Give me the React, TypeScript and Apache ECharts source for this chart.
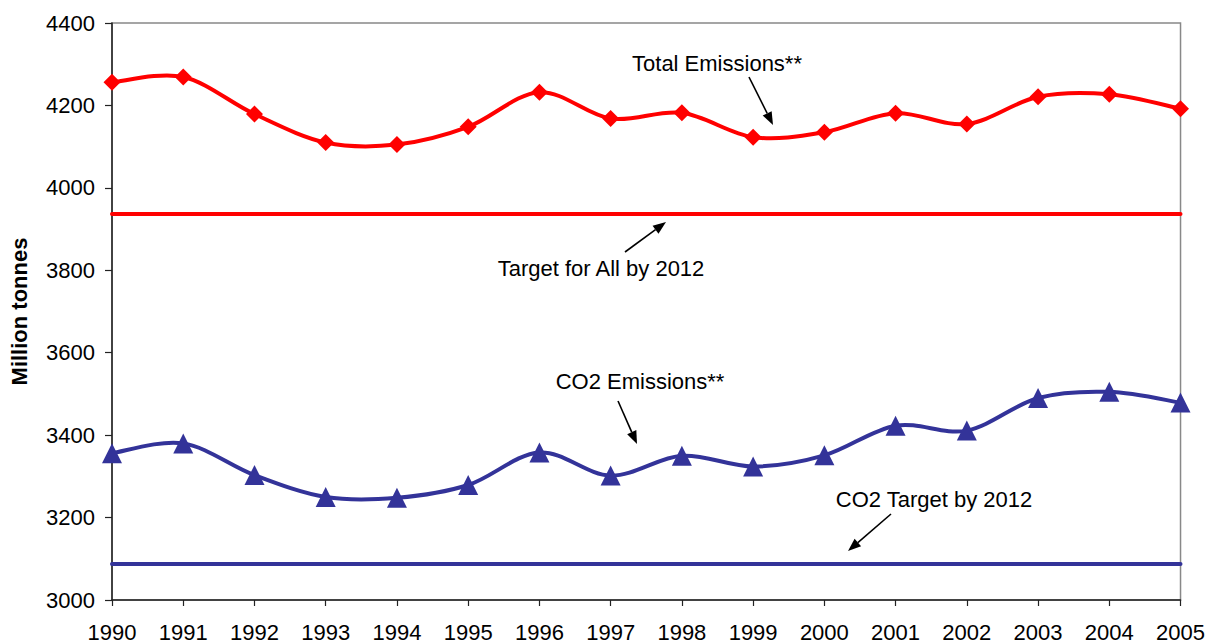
import { useEffect, useRef } from "react";
import * as echarts from "echarts";

// Years on the category axis
const YEARS = [
  "1990", "1991", "1992", "1993", "1994", "1995", "1996", "1997",
  "1998", "1999", "2000", "2001", "2002", "2003", "2004", "2005",
];

// Million tonnes per year
const TOTAL_EMISSIONS = [
  4256, 4269, 4179, 4110, 4105, 4148, 4232, 4168,
  4182, 4123, 4135, 4181, 4155, 4221, 4227, 4192,
];
const CO2_EMISSIONS = [
  3356, 3380, 3303, 3250, 3248, 3279, 3358, 3302,
  3350, 3324, 3351, 3423, 3411, 3490, 3505, 3479,
];

// 2012 targets
const TOTAL_TARGET = 3937;
const CO2_TARGET = 3089;

// Value axis range
const Y_MIN = 3000;
const Y_MAX = 4400;
const Y_STEP = 200;

const FONT = "'Liberation Sans', Arial, sans-serif";
const FONT_SIZE = 22;
const RED = "#FF0000";
const NAVY = "#333399";

// Callout labels with their pointer arrows (pixel layout)
const CALLOUTS = [
  { text: "Total Emissions**", x: 717, y: 63, from: [749, 77], to: [773, 125] },
  { text: "Target for All by 2012", x: 601, y: 268, from: [625, 252], to: [666, 222] },
  { text: "CO2 Emissions**", x: 640, y: 381, from: [618, 401], to: [637, 444] },
  { text: "CO2 Target by 2012", x: 934, y: 499, from: [891, 514], to: [848, 551] },
];

function arrow(from: number[], to: number[]) {
  const dx = to[0] - from[0];
  const dy = to[1] - from[1];
  const len = Math.hypot(dx, dy);
  const ux = dx / len;
  const uy = dy / len;
  const headLen = 13;
  const headHalf = 5;
  const bx = to[0] - ux * headLen;
  const by = to[1] - uy * headLen;
  const nx = -uy;
  const ny = ux;
  return [
    {
      type: "line",
      shape: { x1: from[0], y1: from[1], x2: bx, y2: by },
      style: { stroke: "#000", lineWidth: 1.6 },
      silent: true,
    },
    {
      type: "polygon",
      shape: {
        points: [
          [to[0], to[1]],
          [bx + nx * headHalf, by + ny * headHalf],
          [bx - nx * headHalf, by - ny * headHalf],
        ],
      },
      style: { fill: "#000" },
      silent: true,
    },
  ];
}

// One row per curve segment: [index, previous, start, end, following]
function segmentRows(values: number[]) {
  const n = values.length;
  const rows: number[][] = [];
  for (let i = 0; i < n - 1; i++) {
    rows.push([
      i,
      values[Math.max(i - 1, 0)],
      values[i],
      values[i + 1],
      values[Math.min(i + 2, n - 1)],
    ]);
  }
  return rows;
}

// Catmull-Rom style smoothed curve, each segment as a cubic Bezier
function smoothCurve(name: string, values: number[], color: string) {
  const last = values.length - 1;
  return {
    name,
    type: "custom",
    silent: true,
    z: 2,
    data: segmentRows(values),
    encode: { x: 0, y: 2 },
    renderItem: (_params: any, api: any) => {
      const i = api.value(0);
      const p0 = api.coord([Math.max(i - 1, 0), api.value(1)]);
      const p1 = api.coord([i, api.value(2)]);
      const p2 = api.coord([i + 1, api.value(3)]);
      const p3 = api.coord([Math.min(i + 2, last), api.value(4)]);
      return {
        type: "bezierCurve",
        shape: {
          x1: p1[0],
          y1: p1[1],
          cpx1: p1[0] + (p2[0] - p0[0]) / 6,
          cpy1: p1[1] + (p2[1] - p0[1]) / 6,
          cpx2: p2[0] - (p3[0] - p1[0]) / 6,
          cpy2: p2[1] - (p3[1] - p1[1]) / 6,
          x2: p2[0],
          y2: p2[1],
        },
        style: { stroke: color, lineWidth: 4, fill: null, lineCap: "round" },
      };
    },
  };
}

function markerSeries(name: string, values: number[], color: string, symbol: string, size: number, target: number) {
  return {
    name,
    type: "line",
    data: values,
    symbol,
    symbolSize: size,
    showAllSymbol: true,
    lineStyle: { width: 0, opacity: 0 },
    itemStyle: { color },
    z: 3,
    markLine: {
      silent: true,
      symbol: "none",
      label: { show: false },
      lineStyle: { color, width: 4, type: "solid", cap: "round" },
      data: [{ yAxis: target }],
    },
  };
}

export default function App() {
  const ref = useRef<HTMLDivElement>(null);

  useEffect(() => {
    if (!ref.current) return;
    const chart = echarts.init(ref.current, undefined, { renderer: "svg" });

    const graphics: any[] = [];
    CALLOUTS.forEach((c) => {
      graphics.push({
        type: "text",
        x: c.x,
        y: c.y,
        silent: true,
        style: {
          text: c.text,
          fontFamily: FONT,
          fontSize: FONT_SIZE,
          fill: "#000",
          textAlign: "center",
          textVerticalAlign: "middle",
        },
      });
      graphics.push(...arrow(c.from, c.to));
    });

    chart.setOption({
      animation: false,
      backgroundColor: "#fff",
      textStyle: { fontFamily: FONT },
      grid: {
        left: 107,
        right: 25,
        top: 23,
        bottom: 44,
        show: true,
        borderColor: "#888",
        borderWidth: 1.5,
        backgroundColor: "transparent",
      },
      xAxis: {
        type: "category",
        data: YEARS,
        boundaryGap: false,
        axisLine: { show: true, lineStyle: { color: "#222", width: 1.5 } },
        axisTick: { show: true, length: 6, lineStyle: { color: "#222", width: 1.2 } },
        axisLabel: { fontSize: FONT_SIZE, color: "#000", margin: 21, fontFamily: FONT },
        splitLine: { show: false },
      },
      yAxis: {
        type: "value",
        min: Y_MIN,
        max: Y_MAX,
        interval: Y_STEP,
        name: "Million tonnes",
        nameLocation: "middle",
        nameGap: 82,
        nameTextStyle: { fontSize: FONT_SIZE, fontWeight: "bold", color: "#000", fontFamily: FONT },
        axisLine: { show: true, lineStyle: { color: "#222", width: 1.5 } },
        axisTick: { show: true, length: 7, lineStyle: { color: "#222", width: 1.2 } },
        axisLabel: {
          fontSize: FONT_SIZE,
          color: "#000",
          margin: 17,
          fontFamily: FONT,
          formatter: (v: number) => String(v),
        },
        splitLine: { show: false },
      },
      series: [
        smoothCurve("Total Emissions curve", TOTAL_EMISSIONS, RED),
        smoothCurve("CO2 Emissions curve", CO2_EMISSIONS, NAVY),
        markerSeries("Total Emissions", TOTAL_EMISSIONS, RED, "diamond", 17, TOTAL_TARGET),
        markerSeries("CO2 Emissions", CO2_EMISSIONS, NAVY, "triangle", 20, CO2_TARGET),
      ],
      graphic: graphics,
    });

    return () => chart.dispose();
  }, []);

  return (
    <div
      ref={ref}
      style={{ position: "fixed", left: 0, top: 0, width: 1208, height: 644, background: "#fff" }}
    />
  );
}
